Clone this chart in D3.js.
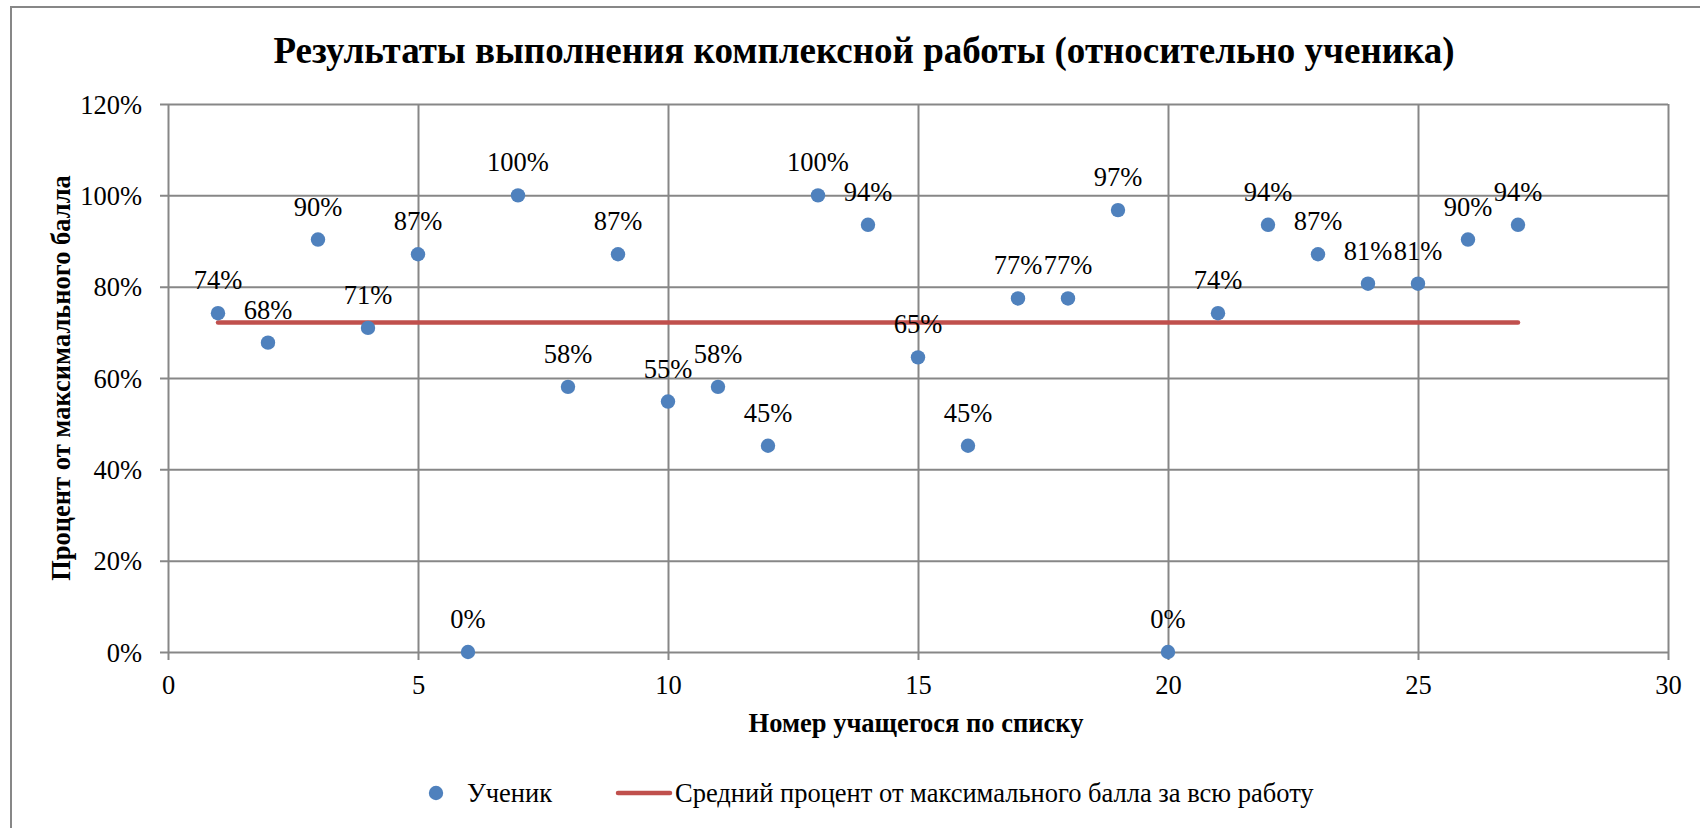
<!DOCTYPE html>
<html>
<head>
<meta charset="utf-8">
<script src="https://cdn.jsdelivr.net/npm/d3@7"></script>
<style>
  html, body { margin: 0; padding: 0; background: #fff; }
  svg { display: block; }
  text { font-family: "Liberation Serif", "Times New Roman", serif; fill: #000; }
</style>
</head>
<body>
<svg id="chart" width="1700" height="828"></svg>
<script>
// ---- data ----
const students = [1,2,3,4,5,6,7,8,9,10,11,12,13,14,15,16,17,18,19,20,21,22,23,24,25,26,27];
const scores = [0.7419,0.6774,0.9032,0.7097,0.8710,0,1,0.5806,0.8710,0.5484,0.5806,0.4516,1,0.9355,0.6452,0.4516,0.7742,0.7742,0.9677,0,0.7419,0.9355,0.8710,0.8065,0.8065,0.9032,0.9355];
const avgX = [1, 27];
const avgY = [0.7216, 0.7216];
const xTicks = [0,5,10,15,20,25,30];
const yTicks = [0,0.2,0.4,0.6,0.8,1.0,1.2];
const titleText = "Результаты выполнения комплексной работы (относительно ученика)";
const xTitle = "Номер учащегося по списку";
const yTitle = "Процент от максимального балла";
const seriesNames = ["Ученик", "Средний процент от максимального балла за всю работу"];

// ---- layout ----
const svg = d3.select("#chart");
const mLeft = 168, mRight = 1668, mTop = 104, mBottom = 652;
const x = d3.scaleLinear().domain([0, 30]).range([mLeft, mRight]);
const y = d3.scaleLinear().domain([0, 1.2]).range([mBottom, mTop]);
const grid = "#878787";
const pct = d3.format(".0%");
const FS = "26.5px";
const SERIF = "'Liberation Serif', 'Times New Roman', serif";

// outer border
svg.append("rect").attr("x", 11).attr("y", 7).attr("width", 1720).attr("height", 900)
  .attr("fill", "none").attr("stroke", grid).attr("stroke-width", 2);

// title
svg.append("text").attr("x", 864).attr("y", 63).attr("text-anchor", "middle")
  .style("font-family", SERIF).style("font-size", "37px").style("font-weight", "bold").text(titleText);

// y axis with gridlines
const yAxis = svg.append("g").attr("transform", `translate(${mLeft},0)`)
  .call(d3.axisLeft(y).tickValues(yTicks).tickFormat(pct).tickSize(-(mRight - mLeft)).tickSizeOuter(0));
yAxis.select(".domain").remove();
yAxis.selectAll(".tick line").attr("stroke", grid).attr("stroke-width", 2).attr("x1", -8);
yAxis.selectAll(".tick text").attr("x", -26).attr("dy", "0.34em")
  .style("font-size", FS).style("font-family", SERIF);

// x axis with gridlines
const xAxis = svg.append("g").attr("transform", `translate(0,${mBottom})`)
  .call(d3.axisBottom(x).tickValues(xTicks).tickFormat(d3.format("d")).tickSize(-(mBottom - mTop)).tickSizeOuter(0));
xAxis.select(".domain").remove();
xAxis.selectAll(".tick line").attr("stroke", grid).attr("stroke-width", 2).attr("y1", 8);
xAxis.selectAll(".tick text").attr("y", 42).attr("dy", 0)
  .style("font-size", FS).style("font-family", SERIF);

// axis titles
svg.append("text").attr("x", 916).attr("y", 732).attr("text-anchor", "middle")
  .style("font-family", SERIF).style("font-size", FS).style("font-weight", "bold").text(xTitle);
svg.append("text").attr("transform", `translate(70,${(mTop + mBottom) / 2}) rotate(-90)`)
  .attr("text-anchor", "middle").style("font-family", SERIF).style("font-size", FS).style("font-weight", "bold").text(yTitle);

// average line
const avgData = avgX.map((d, i) => [d, avgY[i]]);
svg.append("path").datum(avgData)
  .attr("d", d3.line().x(d => x(d[0])).y(d => y(d[1])))
  .attr("stroke", "#C0504D").attr("stroke-width", 4.5).attr("fill", "none").attr("stroke-linecap", "round");

// points
const pts = students.map((s, i) => ({ s, v: scores[i] }));
svg.append("g").selectAll("circle").data(pts).join("circle")
  .attr("cx", d => x(d.s)).attr("cy", d => y(d.v)).attr("r", 7.2).attr("fill", "#4F81BD");

// data labels
svg.append("g").selectAll("text").data(pts).join("text")
  .attr("x", d => x(d.s)).attr("y", d => y(d.v) - 24).attr("text-anchor", "middle")
  .style("font-family", SERIF).style("font-size", FS).text(d => pct(d.v));

// legend
const lg = svg.append("g");
lg.append("circle").attr("cx", 436).attr("cy", 793).attr("r", 7.2).attr("fill", "#4F81BD");
lg.append("text").attr("x", 467).attr("y", 802).style("font-family", SERIF).style("font-size", FS).text(seriesNames[0]);
lg.append("line").attr("x1", 618).attr("x2", 670).attr("y1", 793).attr("y2", 793)
  .attr("stroke", "#C0504D").attr("stroke-width", 4.5).attr("stroke-linecap", "round");
lg.append("text").attr("x", 675).attr("y", 802).style("font-family", SERIF).style("font-size", FS).text(seriesNames[1]);
</script>
</body>
</html>
